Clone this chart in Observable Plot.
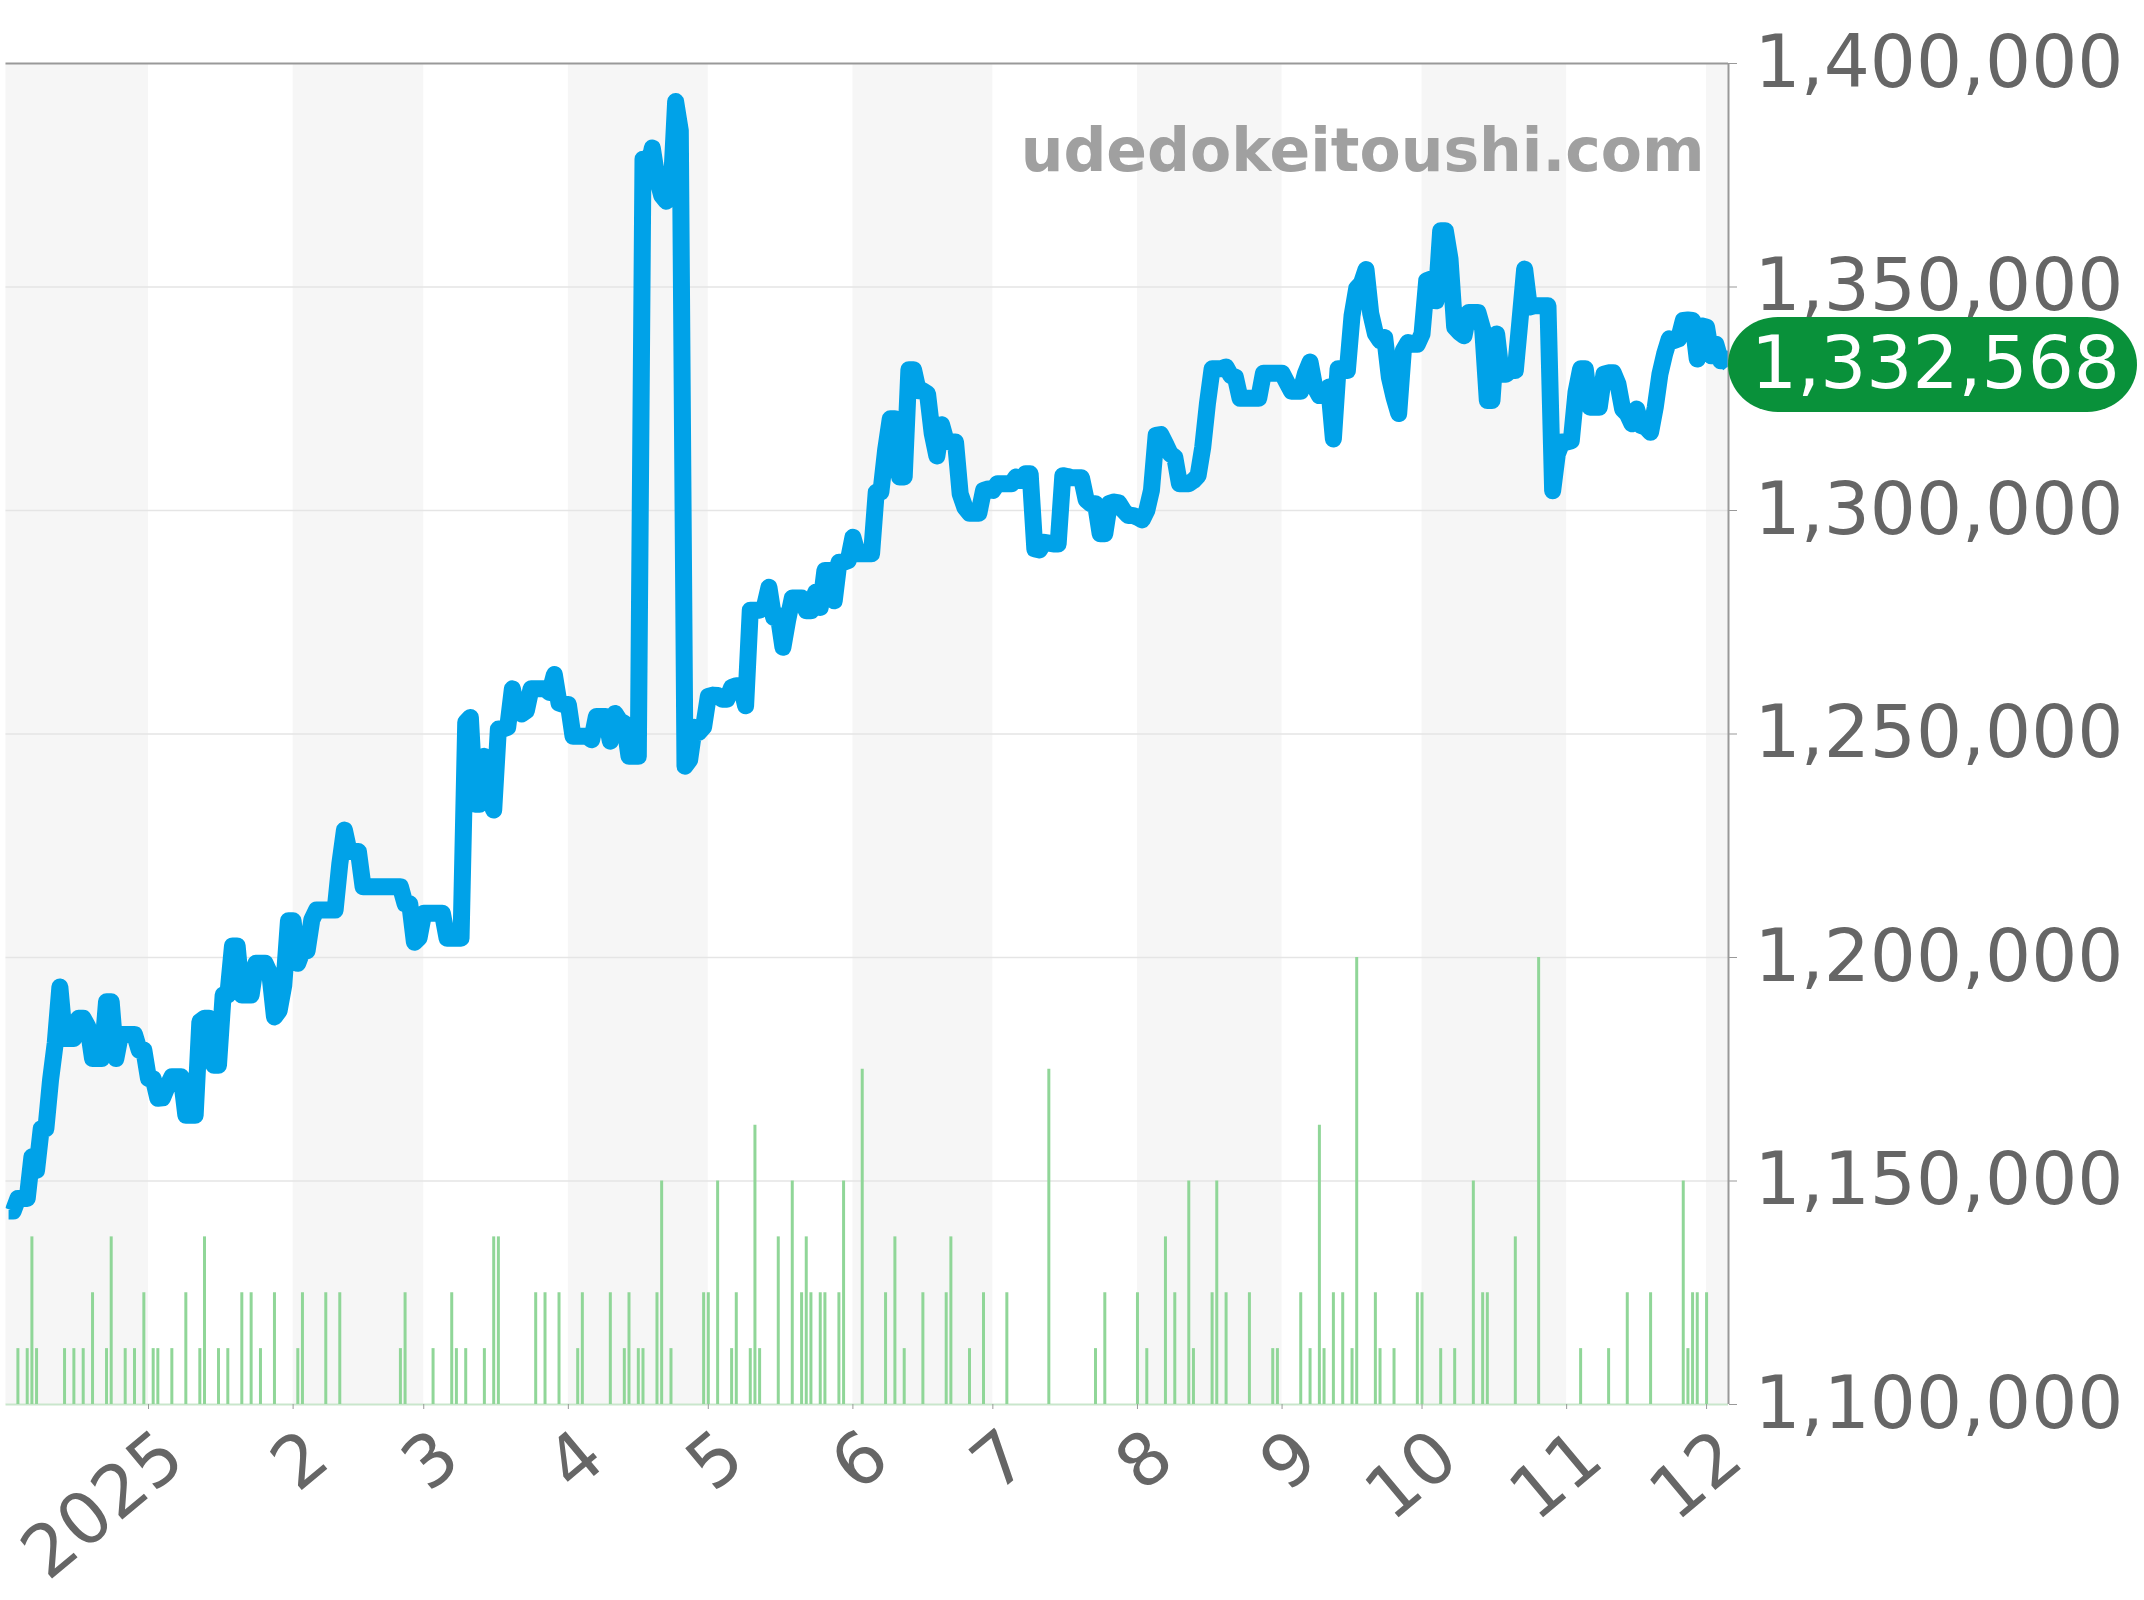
<!DOCTYPE html>
<html>
<head>
<meta charset="utf-8">
<script src="https://cdn.jsdelivr.net/npm/d3@7"></script>
<script src="https://cdn.jsdelivr.net/npm/@observablehq/plot@0.6"></script>
<style>html,body{margin:0;padding:0;background:#fff}svg{display:block}</style>
</head>
<body>
<div id="chart"></div>
<script>
// Day numbers count from 1 January 2025.
const firstPriceDay = -30;
const prices = [
1143300,1143300,1146100,1146100,1146100,1155400,1152400,1161700,1161700,1172600,
1180800,1193400,1181900,1181900,1181900,1186400,1186400,1184500,1177400,1177400,
1177400,1190100,1190100,1177400,1182800,1182800,1182800,1182800,1179300,1179300,
1172900,1172900,1168500,1168600,1171100,1173300,1173300,1173300,1164700,1164700,
1164700,1185600,1186400,1186400,1175900,1175900,1191600,1191600,1202600,1202600,
1191600,1191600,1191600,1198700,1198700,1198700,1196400,1186700,1188100,1193800,
1208200,1208200,1198700,1201500,1201500,1208400,1210600,1210600,1210600,1210600,
1210600,1220900,1228500,1223700,1223700,1223700,1215800,1215800,1215800,1215800,
1215800,1215800,1215800,1215800,1215800,1212000,1212000,1203400,1204400,1209900,
1209900,1209900,1209900,1209900,1204300,1204300,1204300,1204300,1252600,1253700,
1234300,1234300,1245000,1235800,1233000,1251100,1251100,1251500,1260100,1255200,
1254500,1255200,1260100,1260100,1260100,1260100,1259300,1263300,1256900,1256600,
1256600,1249500,1249500,1249500,1249500,1248700,1253900,1253900,1253900,1248400,
1254600,1253000,1252400,1245000,1245000,1245000,1378600,1376100,1381100,1374500,
1370500,1369200,1370900,1391500,1385000,1242800,1244200,1251500,1250400,1251600,
1258400,1258700,1258600,1257800,1257800,1260400,1260800,1260800,1256300,1277700,
1277700,1277700,1278300,1282800,1276100,1276500,1269400,1275400,1280400,1280400,
1280400,1277600,1277600,1281700,1278300,1286600,1286600,1279800,1288400,1288400,
1288800,1294000,1290300,1290300,1290300,1290300,1304100,1304100,1313400,1320500,
1320500,1307500,1307500,1331500,1331500,1326800,1326800,1326100,1317200,1312200,
1319200,1315500,1315300,1315300,1303700,1300700,1299400,1299400,1299400,1304500,
1304800,1304500,1306000,1306000,1306000,1306000,1307500,1306700,1308200,1308200,
1291400,1291200,1292900,1292700,1292500,1292500,1307800,1307600,1307300,1307300,
1307300,1302400,1301500,1301500,1294800,1294800,1301600,1301900,1301700,1300000,
1298900,1298900,1298500,1297900,1300000,1304500,1316800,1317000,1314900,1312700,
1311900,1306000,1306000,1306000,1306700,1307800,1314200,1323900,1331700,1331700,
1331700,1332100,1330200,1329800,1325100,1325100,1325100,1325100,1325100,1330700,
1330700,1330700,1330700,1330700,1328700,1326700,1326700,1326700,1330600,1333200,
1327600,1325700,1325700,1327600,1316000,1331700,1331700,1331300,1343600,1349700,
1350800,1353900,1344100,1339600,1338000,1338700,1329800,1325300,1321700,1335800,
1337600,1337200,1337200,1339500,1351400,1351800,1346900,1362600,1362600,1356300,
1341000,1339900,1339100,1344300,1344300,1344300,1340600,1324600,1324600,1339500,
1330500,1330500,1331300,1331300,1342500,1354000,1345500,1345800,1345800,1345800,
1345800,1304400,1312600,1315300,1315300,1315600,1326400,1331700,1331700,1323100,
1323100,1323100,1330500,1330800,1330800,1328300,1322700,1321600,1319400,1322700,
1319000,1318600,1317500,1323100,1330500,1335000,1338400,1338000,1338400,1342500,
1342600,1342500,1333900,1341300,1341000,1334600,1337200,1333500,1333900,1332568
];
const barDays = [-28,-26,-25,-24,-18,-16,-14,-12,-9,-8,-5,-3,-1,1,2,5,8,11,12,15,17,20,22,24,27,32,33,38,41,54,55,61,65,66,68,72,74,75,83,85,88,92,93,99,102,103,105,106,109,110,112,119,120,122,125,126,129,130,131,135,138,140,141,142,144,145,148,149,153,158,160,162,166,171,172,176,179,184,193,203,205,212,214,218,220,223,224,228,229,231,236,241,242,247,249,251,252,254,256,258,259,263,264,267,272,273,277,280,284,286,287,293,298,307,313,317,322,329,330,331,332,334];
const barCounts = [1,1,3,1,1,1,1,2,1,3,1,1,2,1,1,1,2,1,3,1,1,2,2,1,2,1,2,2,2,1,2,1,2,1,1,1,3,3,2,2,2,1,2,2,1,2,1,1,2,4,1,2,2,4,1,2,1,5,1,3,4,2,3,2,2,2,2,4,6,2,3,1,2,2,3,1,2,2,6,1,2,2,1,3,2,4,1,2,4,2,2,1,1,2,1,5,1,2,2,1,8,2,1,1,2,2,1,1,4,2,2,3,8,1,1,2,2,4,1,2,2,2];
const countUnit = 12500;
const monthDays = [0,31,59,90,120,151,181,212,243,273,304,334];
const monthLabels = ["2025","2","3","4","5","6","7","8","9","10","11","12"];
const shadedFrom = [-31,31,90,151,212,273,334];
const shadedTo = [0,59,120,181,243,304,365];
const priceTicks = [1100000,1150000,1200000,1250000,1300000,1350000,1400000];
const latestPrice = 1332568;
const siteName = "udedokeitoushi.com";

const dayDate = d => new Date(Date.UTC(2025,0,1) + d*864e5);
const xStart = dayDate(-30.55), xEnd = dayDate(338.7);
const linePts = prices.map((p,i)=>({date:dayDate(firstPriceDay+i),price:p}));
const barPts = barDays.map((d,i)=>({date:dayDate(d),top:priceTicks[0]+barCounts[i]*countUnit}));
const bands = shadedFrom.map((d,i)=>({a:dayDate(d),b:dayDate(shadedTo[i])}));
const tickDates = monthDays.map(dayDate);
const font = "DejaVu Sans, sans-serif";

const chart = Plot.plot({
  width:2144, height:1600,
  marginLeft:5.5, marginRight:416, marginTop:63, marginBottom:196,
  style:{background:"#fff",overflow:"visible",fontFamily:font},
  x:{type:"utc",domain:[xStart,xEnd]},
  y:{domain:[1100000,1400000]},
  marks:[
    Plot.rect(bands,{x1:"a",x2:"b",y1:priceTicks[0],y2:priceTicks[6],fill:"#f6f6f6",clip:true}),
    Plot.ruleY(priceTicks.slice(1,6),{stroke:"#e5e5e5",strokeWidth:1.5}),
    Plot.ruleY([priceTicks[6]],{stroke:"#999",strokeWidth:2}),
    Plot.ruleY([priceTicks[0]],{stroke:"#c9e6cc",strokeWidth:2}),
    Plot.ruleX(barPts,{x:"date",y1:priceTicks[0],y2:"top",stroke:"#90d698",strokeWidth:3}),
    Plot.line(linePts,{x:"date",y:"price",stroke:"#00a2e8",strokeWidth:17,strokeLinejoin:"round",strokeLinecap:"butt",clip:true}),
    Plot.text([siteName],{frameAnchor:"top-right",dx:-24,dy:65,text:d=>d,lineAnchor:"top",textAnchor:"end",fontSize:60,fontWeight:"bold",fill:"#a0a0a0",fontFamily:font}),
    Plot.ruleX([xEnd],{stroke:"#999",strokeWidth:2}),
    Plot.axisX(tickDates,{x:d=>d,anchor:"bottom",tickSize:5,stroke:"#999",text:null,label:null}),
    Plot.axisX(tickDates,{x:d=>d,anchor:"bottom",tickSize:0,dx:25,fill:"#666",fontSize:72,tickRotate:-40,tickPadding:42,label:null,
      tickFormat:d=>monthLabels[tickDates.findIndex(t=>+t===+d)]}),
    Plot.axisY(priceTicks,{anchor:"right",tickSize:8,stroke:"#999",fill:"#666",fontSize:72.5,tickPadding:18,tickFormat:d3.format(","),label:null}),
    Plot.rect([latestPrice],{x1:()=>xEnd,x2:()=>xEnd,y1:d=>d,y2:d=>d,insetRight:-409,insetTop:-47.5,insetBottom:-47.5,rx:50,fill:"#09913a"}),
    Plot.text([latestPrice],{x:()=>xEnd,y:d=>d,text:d3.format(","),dx:207,textAnchor:"middle",fontSize:72.5,fill:"#fff",fontFamily:font})
  ]
});
document.getElementById("chart").appendChild(chart);
</script>
</body>
</html>
